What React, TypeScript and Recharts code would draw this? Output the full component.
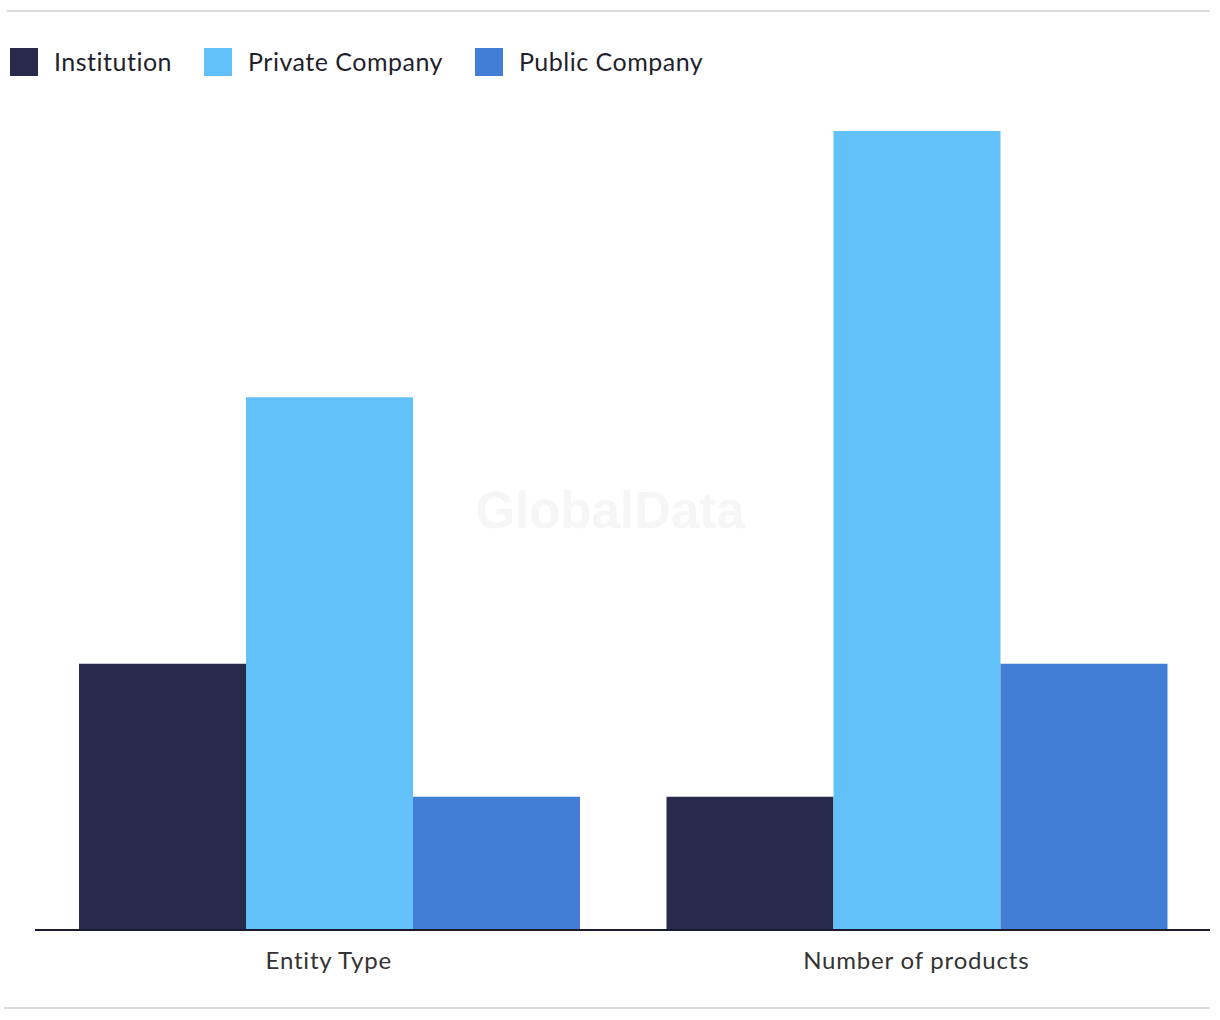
import { BarChart, Bar, XAxis, YAxis } from 'recharts';

const categories = ['Entity Type', 'Number of products'];
const institution = [2, 1];
const privateCompany = [4, 6];
const publicCompany = [1, 2];

const series = [
  { key: 'institution', name: 'Institution', color: '#272a4b', values: institution },
  { key: 'privateCompany', name: 'Private Company', color: '#62c1f8', values: privateCompany },
  { key: 'publicCompany', name: 'Public Company', color: '#427ed6', values: publicCompany },
];

const data = categories.map((c, i) => {
  const row: Record<string, string | number> = { category: c };
  series.forEach((s) => (row[s.key] = s.values[i]));
  return row;
});

const font = 'Lato, "Open Sans", sans-serif';

export default function App() {
  return (
    <div style={{ position: 'absolute', left: 0, top: 0, width: 1220, height: 1020, background: '#fff', fontFamily: font }}>
      <div style={{ position: 'absolute', left: 7, right: 10, top: 10, height: 2, background: '#dcdcdc' }} />
      <div style={{ position: 'absolute', left: 10, top: 48, display: 'flex', alignItems: 'center' }}>
        {series.map((s) => (
          <div key={s.key} style={{ display: 'flex', alignItems: 'center', marginRight: 32 }}>
            <span style={{ width: 28, height: 28, background: s.color, display: 'inline-block', marginRight: 16 }} />
            <span style={{ fontSize: 25, color: '#1f1f2e', letterSpacing: 0.5, lineHeight: '26px', position: 'relative', top: -1 }}>{s.name}</span>
          </div>
        ))}
      </div>
      <div style={{ position: 'absolute', left: 0, width: 1220, top: 481, textAlign: 'center', fontSize: 51, fontWeight: 700, color: '#f6f6f6', fontFamily: 'Arial, "Liberation Sans", sans-serif' }}>
        GlobalData
      </div>
      <div style={{ position: 'absolute', left: 0, top: 0 }}>
        <BarChart width={1220} height={1020} data={data} margin={{ top: 131, right: 10, left: 35, bottom: 30 }} barCategoryGap={44} barGap={0}>
          <XAxis
            dataKey="category"
            height={60}
            axisLine={{ stroke: '#1b1b2f', strokeWidth: 2 }}
            tickLine={false}
            tick={{ fontSize: 24, fill: '#333', fontFamily: font, letterSpacing: 0.8 }}
            dy={14}
          />
          <YAxis hide domain={[0, 6]} />
          {series.map((s) => (
            <Bar key={s.key} dataKey={s.key} name={s.name} fill={s.color} isAnimationActive={false} />
          ))}
        </BarChart>
      </div>
      <div style={{ position: 'absolute', left: 4, right: 10, top: 1007, height: 2, background: '#dcdcdc' }} />
    </div>
  );
}
